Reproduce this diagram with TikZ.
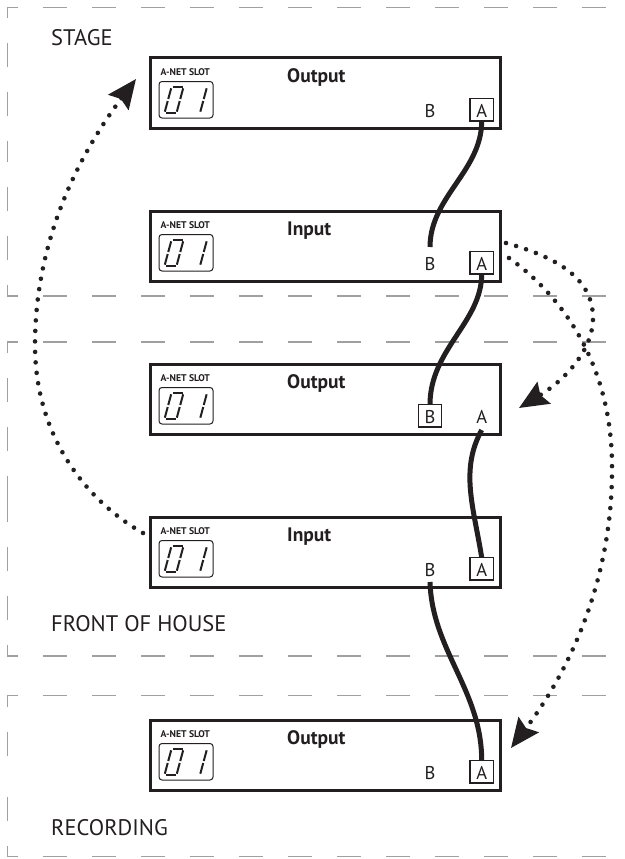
\documentclass[tikz,border=0pt]{standalone}
\usepackage{fontspec}
\setmainfont{PT Sans}
\usetikzlibrary{arrows.meta}
\definecolor{ink}{HTML}{231F20}
\definecolor{zone}{HTML}{A0A0A0}
\tikzset{
  zoneline/.style={draw=zone, line width=1.4pt, dash pattern=on 24pt off 25pt, dash phase=13pt},
  devbox/.style={draw=ink, line width=3pt, minimum width=350pt, minimum height=70pt, inner sep=0pt, outer sep=0pt, anchor=north west},
  cable/.style={draw=ink, line width=5pt},
  flow/.style={draw=ink, line width=4.6pt, line cap=round, dash pattern=on 0pt off 10.5pt, -{Stealth[length=29pt,width=25pt,inset=4pt]}},
  zonelabel/.style={text=ink, font=\fontsize{22.5}{26}\selectfont, anchor=base west, inner sep=0pt},
  devtitle/.style={text=ink, font=\bfseries\fontsize{19.5}{22}\selectfont, anchor=base west, inner sep=0pt},
  port/.style={text=ink, font=\fontsize{18.5}{21}\selectfont, anchor=base, inner sep=0pt},
  slot/.style={text=ink, font=\bfseries\fontsize{9.7}{11}\selectfont, anchor=base west, inner sep=0pt},
  seg/.style={draw=ink, line width=2pt},
  portbox/.style={draw=ink, line width=1.2pt},
}
\newcommand\zonebox[2]{%
  \draw[zoneline] (7.3,#1) -- (624,#1);
  \draw[zoneline] (7.3,#2) -- (624,#2);
  \draw[zoneline] (7.3,#1) -- (7.3,{(#1+#2)/2});
  \draw[zoneline] (7.3,#2) -- (7.3,{(#1+#2)/2});
}
% #1 name, #2 top, #3 title, #4 x of boxed port
\newcommand\device[4]{%
  \node[devbox] (#1) at (150,#2) {};
  \node[slot] (#1-slot) at (160.5,{#2+17.5}) {A-NET SLOT};
  \draw[draw=ink, line width=1pt, rounded corners=3pt] (159,{#2+23.5}) rectangle (213,{#2+60});
  \begin{scope}[shift={(171.5,{#2+29})}, xslant=0.27]
    \draw[seg] (1.3,0) -- (11.7,0);
    \draw[seg] (12,1.3) -- (12,12);
    \draw[seg] (12,14) -- (12,24.7);
    \draw[seg] (1.3,26) -- (11.7,26);
    \draw[seg] (0,14) -- (0,24.7);
    \draw[seg] (0,1.3) -- (0,12);
  \end{scope}
  \begin{scope}[shift={(195,{#2+29})}, xslant=0.27]
    \draw[seg] (12,1.3) -- (12,12);
    \draw[seg] (12,14) -- (12,24.7);
  \end{scope}
  \node[devtitle] (#1-title) at (287,{#2+24.5}) {#3};
  \node[port] (#1-B) at (430,{#2+59}) {B};
  \node[port] (#1-A) at (481.7,{#2+59}) {A};
  \draw[portbox] ({#4-11.8},{#2+40.5}) rectangle ({#4+11.8},{#2+63});
  \coordinate (#1-Atop) at (481.7,{#2+40.5});
  \coordinate (#1-Abot) at (481.7,{#2+63});
  \coordinate (#1-Btop) at (430,{#2+40.5});
  \coordinate (#1-Bbot) at (430,{#2+63});
  \coordinate (#1-Babove) at (430,{#2+36});
}
\begin{document}
\begin{tikzpicture}[x=1pt, y=-1pt]
  \useasboundingbox[fill=white] (0,0) rectangle (624,859);
  % zones
  \zonebox{7.3}{296}
  \zonebox{342}{656}
  \zonebox{695.7}{856.7}
  \node[zonelabel] (stage) at (51,45.7) {STAGE};
  \node[zonelabel] (foh) at (51,631) {FRONT OF HOUSE};
  \node[zonelabel] (rec) at (51,835) {RECORDING};
  % devices
  \device{s1}{58}{Output}{481.7}
  \device{s2}{211}{Input}{481.7}
  \device{f1}{364}{Output}{430}
  \device{f2}{517}{Input}{481.7}
  \device{r1}{720}{Output}{481.7}
  % cables
  \coordinate (f1-Aout) at (481.7,430);
  \coordinate (f2-Bout) at (430,582);
  \draw[cable] (s1-Abot) .. controls +(0,50) and +(0,-50) .. (s2-Babove);
  \draw[cable] (s2-Abot) .. controls +(0,48) and +(0,-55) .. (f1-Btop);
  \draw[cable] (f1-Aout) .. controls +(-22,40) and +(-8,-50) .. (f2-Atop);
  \draw[cable] (f2-Bout) .. controls +(2,68) and +(0,-70) .. (r1-Atop);
  % signal flow arrows
  \coordinate (lstart) at (143,533);
  \coordinate (lmid) at (35,345);
  \coordinate (ltip) at (136,79);
  \draw[flow] (lstart) .. controls (85,500) and (35,435) .. (lmid)
                       .. controls (35,245) and (75,160) .. (ltip);
  \coordinate (ustart) at (506,243);
  \coordinate (umid) at (593,318);
  \coordinate (utip) at (519,408);
  \draw[flow] (ustart) .. controls (560,258) and (593,280) .. (umid)
                       .. controls (593,350) and (565,380) .. (utip);
  \coordinate (dstart) at (509,258);
  \coordinate (dmid) at (612,470);
  \coordinate (dtip) at (511,748);
  \draw[flow] (dstart) .. controls (565,298) and (613,368) .. (dmid)
                       .. controls (612,580) and (570,670) .. (dtip);
\end{tikzpicture}
\end{document}
